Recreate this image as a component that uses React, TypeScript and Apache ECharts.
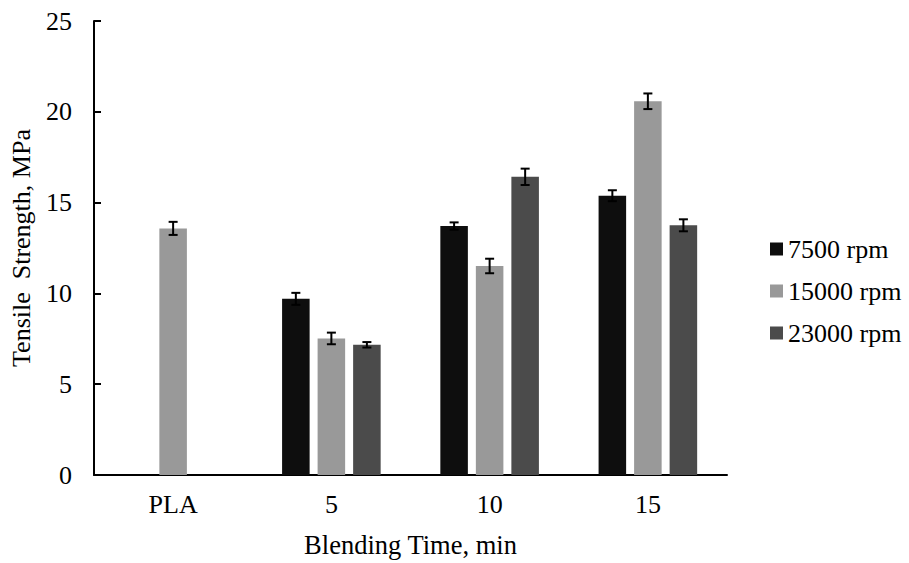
import React, { useEffect, useRef } from "react";
import * as echarts from "echarts";

const categories = ["PLA", "5", "10", "15"];
const seriesNames = ["7500 rpm", "15000 rpm", "23000 rpm"];
const values7500: (number | null)[] = [null, 9.7, 13.71, 15.38];
const values15000: (number | null)[] = [13.58, 7.52, 11.51, 20.58];
const values23000: (number | null)[] = [null, 7.17, 16.42, 13.75];
const err7500: (number | null)[] = [null, 0.33, 0.2, 0.3];
const err15000: (number | null)[] = [0.36, 0.32, 0.4, 0.43];
const err23000: (number | null)[] = [null, 0.15, 0.45, 0.33];
const yTicks = { min: 0, max: 25, interval: 5 };

const colors = ["#0e0e0e", "#999999", "#4b4b4b"];
const FONT = "Liberation Serif";
const TEXT = "#000";
const BAR_FRAC = 0.174;
const GAP_FRAC = 0.29;

export default function App() {
  const ref = useRef<HTMLDivElement>(null);
  useEffect(() => {
    document.body.style.margin = "0";
    const chart = echarts.init(ref.current!, null, { renderer: "svg" });
    const allValues = [values7500, values15000, values23000];
    const allErr = [err7500, err15000, err23000];

    const barSeries = seriesNames.map((name, i) => ({
      name,
      type: "bar",
      data: allValues[i],
      barWidth: BAR_FRAC * 100 + "%",
      barGap: GAP_FRAC * 100 + "%",
      itemStyle: { color: colors[i] },
      z: 2,
    }));

    const errSeries = seriesNames.map((name, i) => {
      const data: number[][] = [];
      allValues[i].forEach((v, ci) => {
        const e = allErr[i][ci];
        if (v != null && e != null) data.push([ci, v - e, v + e]);
      });
      return {
        type: "custom",
        name: name + " err",
        data,
        z: 5,
        renderItem: (params: any, api: any) => {
          const ci = api.value(0);
          const lo = api.coord([ci, api.value(1)]);
          const hi = api.coord([ci, api.value(2)]);
          const band = api.size([1, 0])[0];
          const bw = band * BAR_FRAC;
          const off = (i - 1) * (bw + bw * GAP_FRAC);
          const x = lo[0] + off;
          const cap = 4.5;
          const style = { stroke: "#000", lineWidth: 2 };
          return {
            type: "group",
            children: [
              { type: "line", shape: { x1: x, y1: lo[1], x2: x, y2: hi[1] }, style },
              { type: "line", shape: { x1: x - cap, y1: lo[1], x2: x + cap, y2: lo[1] }, style },
              { type: "line", shape: { x1: x - cap, y1: hi[1], x2: x + cap, y2: hi[1] }, style },
            ],
          };
        },
      };
    });

    chart.setOption({
      animation: false,
      backgroundColor: "#ffffff",
      textStyle: { fontFamily: FONT, color: TEXT },
      grid: { left: 93, top: 21, width: 634, height: 456 },
      legend: {
        data: seriesNames,
        orient: "vertical",
        left: 765,
        top: 231,
        itemWidth: 13,
        itemHeight: 13,
        itemGap: 16,
        icon: "rect",
        textStyle: { fontFamily: FONT, fontSize: 26, color: TEXT },
      },
      xAxis: {
        type: "category",
        data: categories,
        name: "Blending Time, min",
        nameLocation: "middle",
        nameGap: 56,
        nameTextStyle: { fontFamily: FONT, fontSize: 26.5, color: TEXT },
        axisLine: { lineStyle: { color: "#000", width: 2 } },
        axisTick: { show: false },
        axisLabel: { fontFamily: FONT, fontSize: 26, color: TEXT, margin: 16 },
      },
      yAxis: {
        type: "value",
        min: yTicks.min,
        max: yTicks.max,
        interval: yTicks.interval,
        name: "Tensile  Strength, MPa",
        nameLocation: "middle",
        nameGap: 60,
        nameTextStyle: { fontFamily: FONT, fontSize: 26, color: TEXT },
        axisLine: { show: true, lineStyle: { color: "#000", width: 2 } },
        axisTick: { show: true, inside: true, length: 7, lineStyle: { color: "#000", width: 2 } },
        splitLine: { show: false },
        axisLabel: { fontFamily: FONT, fontSize: 26, color: TEXT, margin: 22 },
      },
      series: [...barSeries, ...errSeries],
    });
    return () => chart.dispose();
  }, []);
  return <div ref={ref} style={{ width: 909, height: 563 }} />;
}
